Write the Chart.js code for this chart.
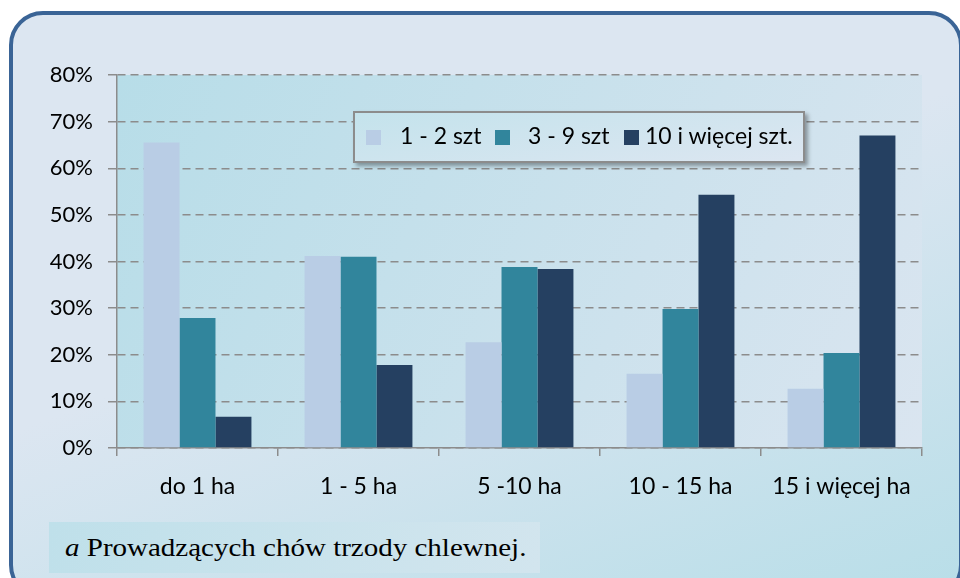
<!DOCTYPE html>
<html>
<head>
    <meta charset="utf-8">
    <title>Chów trzody chlewnej wg powierzchni</title>
    <script src="https://cdn.jsdelivr.net/npm/chart.js"></script>
    <style>
        body {
            margin: 0;
            background: #fff;
            font-family: Lato, "Open Sans", sans-serif;
        }
        #frame {
            position: absolute;
            left: 9px;
            top: 11px;
            width: 946px;
            height: 580px;
            border: 4px solid #3a6496;
            border-radius: 34px;
            background: linear-gradient(160deg, #dce6f1 0%, #dce6f1 45%, #b8dee8 100%);
        }
        #chart {
            position: absolute;
            left: 0;
            top: 0;
        }
        #legend {
            position: absolute;
            left: 353px;
            top: 111px;
            width: 448px;
            height: 48px;
            border: 2px solid #8c8c8c;
            box-shadow: 3px 3px 4px rgba(0,0,0,0.35);
            background: linear-gradient(170deg, #c4e3ec, #dce6f1);
            font-size: 23px;
            color: #000;
        }
        #legend .box {
            position: absolute;
            top: 17px;
            width: 15px;
            height: 15px;
        }
        #legend .txt {
            position: absolute;
            top: 8px;
            white-space: nowrap;
        }
        #note {
            position: absolute;
            left: 49px;
            top: 522px;
            width: 491px;
            height: 51px;
            background: linear-gradient(100deg, #bfe0ea, #d2e5ee);
            font-family: "Liberation Serif", "Times New Roman", serif;
            font-size: 25px;
            line-height: 51px;
            padding-left: 16px;
            box-sizing: border-box;
            white-space: nowrap;
        }
        #note span {
            display: inline-block;
            transform: scaleX(1.16);
            transform-origin: left center;
        }
    </style>
</head>
<body>
    <div id="frame"></div>
    <canvas id="chart" width="960" height="578"></canvas>
    <div id="legend"></div>
    <div id="note"><span><i>a</i> Prowadzących chów trzody chlewnej.</span></div>

    <script>
        // data
        const categories = ['do 1 ha', '1 - 5 ha', '5 -10 ha', '10 - 15 ha', '15 i więcej ha'];
        const seriesNames = ['1 - 2 szt', '3 - 9 szt', '10 i więcej szt.'];
        const small = [65.5, 41.2, 22.7, 15.9, 12.7];
        const medium = [27.9, 41.0, 38.8, 29.8, 20.4];
        const large = [6.7, 17.8, 38.4, 54.3, 67.0];
        const yTicks = [0, 10, 20, 30, 40, 50, 60, 70, 80];
        const colors = ['#b9cde5', '#31859c', '#254061'];

        const seriesValues = [small, medium, large];

        // legend box (square and text offsets inside the box)
        const legend = document.getElementById('legend');
        const boxLeft = [11, 140, 269];
        const textLeft = [45, 173, 290];
        seriesNames.forEach((name, i) => {
            const box = document.createElement('span');
            box.className = 'box';
            box.style.background = colors[i];
            box.style.left = boxLeft[i] + 'px';
            const label = document.createElement('span');
            label.className = 'txt';
            label.style.left = textLeft[i] + 'px';
            label.textContent = name;
            legend.appendChild(box);
            legend.appendChild(label);
        });

        // gradient behind the plot area
        const plotBg = {
            id: 'plotBg',
            beforeDraw(chart) {
                const a = chart.chartArea;
                const ctx = chart.ctx;
                const g = ctx.createLinearGradient(a.left, a.top, a.right, a.bottom);
                g.addColorStop(0, '#b7dde8');
                g.addColorStop(1, '#dae5f0');
                ctx.save();
                ctx.fillStyle = g;
                ctx.fillRect(a.left, a.top, a.right - a.left, a.bottom - a.top);
                ctx.restore();
            }
        };

        const family = 'Lato, "Open Sans", sans-serif';

        new Chart(document.getElementById('chart').getContext('2d'), {
            type: 'bar',
            data: {
                labels: categories,
                datasets: seriesNames.map((name, i) => ({
                    label: name,
                    data: seriesValues[i],
                    backgroundColor: colors[i],
                    borderWidth: 0,
                    barPercentage: 1,
                    categoryPercentage: 0.67
                }))
            },
            options: {
                responsive: false,
                animation: false,
                layout: { padding: { left: 0, top: 75, right: 38, bottom: 0 } },
                plugins: {
                    legend: { display: false },
                    tooltip: { enabled: false }
                },
                scales: {
                    x: {
                        grid: {
                            offset: true,
                            drawOnChartArea: false,
                            drawTicks: true,
                            tickLength: 8,
                            color: '#8c8c8c',
                            lineWidth: 1.5
                        },
                        border: { color: '#8c8c8c', width: 1.5 },
                        ticks: { color: '#000', font: { family: family, size: 23 }, padding: 17 },
                        afterFit(scale) { scale.height = 130; }
                    },
                    y: {
                        min: 0,
                        max: 80,
                        afterBuildTicks(scale) {
                            scale.ticks = yTicks.map(v => ({ value: v }));
                        },
                        grid: {
                            color: '#8c8c8c',
                            lineWidth: 1.5,
                            tickLength: 9,
                            tickBorderDash: []
                        },
                        border: { color: '#8c8c8c', width: 1.5, dash: [8, 5] },
                        ticks: {
                            color: '#000',
                            font: { family: family, size: 22 },
                            padding: 15,
                            callback: v => v + '%'
                        },
                        afterFit(scale) { scale.width = 117; }
                    }
                }
            },
            plugins: [plotBg]
        });
    </script>
</body>
</html>
